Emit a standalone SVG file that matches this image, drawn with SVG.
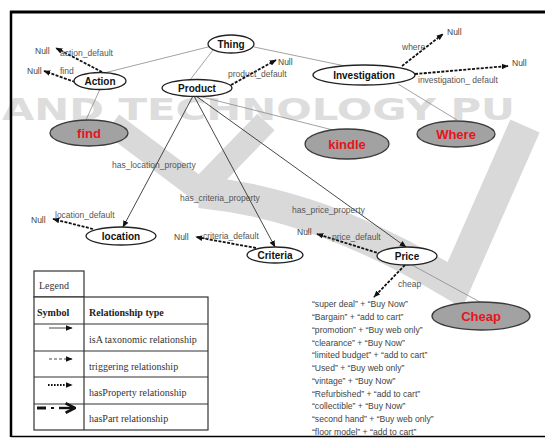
<svg xmlns="http://www.w3.org/2000/svg" width="545" height="439" viewBox="0 0 545 439">
<style>
.wm{fill:#dddddd;font-family:"DejaVu Sans",sans-serif;font-size:30px;font-weight:bold}
.sw{fill:none;stroke:#d9d9d9;stroke-linejoin:miter}
.frame{stroke:#000;fill:none}
.node{fill:#fff;stroke:#222;stroke-width:1.3}
.gnode{fill:#a2a2a2;stroke:#3a3a3a;stroke-width:1.3}
.nt{font-family:"Liberation Sans",Arial,sans-serif;font-size:10px;font-weight:bold;fill:#111;text-anchor:middle}
.rt{font-family:"Liberation Sans",Arial,sans-serif;font-size:13px;font-weight:bold;fill:#e8141c;text-anchor:middle}
.lb{font-family:"Liberation Sans",Arial,sans-serif;font-size:8.5px;fill:#555}
.nl{font-family:"Liberation Sans",Arial,sans-serif;font-size:8.5px;fill:#444}
.ls{font-family:"Liberation Sans",Arial,sans-serif;font-size:8.6px;fill:#444}
.plain{stroke:#8a8a8a;stroke-width:0.8;fill:none}
.solid{stroke:#333;stroke-width:0.9;fill:none;marker-end:url(#ah)}
.dash{stroke:#111;stroke-width:1.8;stroke-dasharray:3 1.4;fill:none;marker-end:url(#ah)}
.tb{fill:#fff;stroke:#333;stroke-width:1.2}
.tt{font-family:"Liberation Serif","Times New Roman",serif;font-size:10px;fill:#333}
.th{font-family:"Liberation Serif","Times New Roman",serif;font-size:10px;font-weight:bold;fill:#222}
</style>
<defs>
<marker id="ah" viewBox="0 0 10 10" refX="9" refY="5" markerWidth="7" markerHeight="7" orient="auto" markerUnits="userSpaceOnUse"><path d="M0,1 L10,5 L0,9 z" fill="#111"/></marker>
<marker id="ahb" viewBox="0 0 10 10" refX="8" refY="5" markerWidth="12" markerHeight="12" orient="auto" markerUnits="userSpaceOnUse"><path d="M1,1 L9,5 L1,9" fill="none" stroke="#111" stroke-width="2.2"/></marker>
</defs>
<rect width="545" height="439" fill="#fff"/>
<g id="watermark">
<text class="wm" x="2" y="120" textLength="513" lengthAdjust="spacingAndGlyphs">AND TECHNOLOGY PU</text>
<path class="sw" d="M112,124 L200,190 L266,122" stroke-width="24"/>
<path class="sw" d="M200,192 C280,200 360,228 455,285 L525,126" stroke-width="32"/>
</g>
<g id="frame">
<line class="frame" x1="10" y1="12" x2="545" y2="12" stroke-width="3"/>
<line class="frame" x1="11" y1="11" x2="11" y2="437" stroke-width="2.5"/>
<line class="frame" x1="11" y1="436.5" x2="545" y2="436.5" stroke-width="1.6" stroke="#333"/>
</g>
<g id="connectors">
<line class="plain" x1="216" y1="45" x2="104" y2="73"/>
<line class="plain" x1="213" y1="50" x2="190" y2="80"/>
<line class="plain" x1="254" y1="47" x2="345" y2="66"/>
<line class="plain" x1="100" y1="89" x2="86" y2="120"/>
<line class="plain" x1="198" y1="96" x2="333" y2="130"/>
<line class="plain" x1="398" y1="84" x2="457" y2="120"/>
<line class="plain" x1="412" y1="265" x2="480" y2="302"/>
<line class="solid" x1="193" y1="96" x2="123" y2="227"/>
<line class="solid" x1="194" y1="96" x2="275" y2="247"/>
<line class="solid" x1="196" y1="96" x2="406" y2="247"/>
<line class="dash" x1="102" y1="72" x2="56" y2="48"/>
<line class="dash" x1="75" y1="82" x2="44" y2="71"/>
<line class="dash" x1="231" y1="85" x2="276" y2="60"/>
<line class="dash" x1="402" y1="66" x2="443" y2="34"/>
<line class="dash" x1="415" y1="74" x2="508" y2="66"/>
<line class="dash" x1="93" y1="229" x2="53" y2="219"/>
<line class="dash" x1="256" y1="248" x2="196" y2="237"/>
<line class="dash" x1="381" y1="254" x2="317" y2="234"/>
<line class="dash" x1="405" y1="265" x2="374" y2="297"/>
<text class="nl" x="35" y="54">Null</text>
<text class="lb" x="60" y="56">action_default</text>
<text class="nl" x="27" y="74">Null</text>
<text class="lb" x="60" y="74">find</text>
<text class="nl" x="278" y="65">Null</text>
<text class="lb" x="228" y="77">product_default</text>
<text class="nl" x="447" y="35">Null</text>
<text class="lb" x="402" y="50">where</text>
<text class="nl" x="512" y="66">Null</text>
<text class="lb" x="418" y="83">investigation_ default</text>
<text class="nl" x="31" y="223">Null</text>
<text class="lb" x="55" y="218">location_default</text>
<text class="nl" x="174" y="240">Null</text>
<text class="lb" x="203" y="239">criteria_default</text>
<text class="nl" x="297" y="235">Null</text>
<text class="lb" x="332" y="240">price_default</text>
<text class="lb" x="398" y="287">cheap</text>
<text class="lb" x="112" y="168">has_location_property</text>
<text class="lb" x="180" y="201">has_criteria_property</text>
<text class="lb" x="292" y="213">has_price_property</text>
</g>
<g id="Thing"><ellipse class="node" cx="231" cy="44" rx="23" ry="9"/><text class="nt" x="231" y="47.5">Thing</text></g>
<g id="Action"><ellipse class="node" cx="100" cy="81" rx="26" ry="8.5"/><text class="nt" x="100" y="84.5">Action</text></g>
<g id="Product"><ellipse class="node" cx="197" cy="88" rx="35" ry="8.5"/><text class="nt" x="197" y="91.5">Product</text></g>
<g id="Investigation"><ellipse class="node" cx="364" cy="75" rx="51" ry="10"/><text class="nt" x="364" y="78.5">Investigation</text></g>
<g id="find"><ellipse class="gnode" cx="89" cy="133" rx="39" ry="13"/><text class="rt" x="89" y="137.5">find</text></g>
<g id="kindle"><ellipse class="gnode" cx="347" cy="144" rx="42" ry="15"/><text class="rt" x="347" y="149">kindle</text></g>
<g id="Where"><ellipse class="gnode" cx="456" cy="134" rx="39" ry="13"/><text class="rt" x="456" y="138.5">Where</text></g>
<g id="location"><ellipse class="node" cx="121" cy="236" rx="35" ry="9"/><text class="nt" x="121" y="239.5">location</text></g>
<g id="Criteria"><ellipse class="node" cx="275" cy="255" rx="28" ry="8"/><text class="nt" x="275" y="258.5">Criteria</text></g>
<g id="Price"><ellipse class="node" cx="407" cy="256" rx="30" ry="9"/><text class="nt" x="407" y="259.5">Price</text></g>
<g id="Cheap"><ellipse class="gnode" cx="481" cy="316" rx="49" ry="14"/><text class="rt" x="481" y="320.5">Cheap</text></g>
<g id="cheap-list">
<text class="ls" x="312" y="307">“super deal” + “Buy Now”</text>
<text class="ls" x="312" y="320">“Bargain” + “add to cart”</text>
<text class="ls" x="312" y="332.5">“promotion” + “Buy web only”</text>
<text class="ls" x="312" y="345.5">“clearance” + “Buy Now”</text>
<text class="ls" x="312" y="358">“limited budget” + “add to cart”</text>
<text class="ls" x="312" y="371">“Used” + “Buy web only”</text>
<text class="ls" x="312" y="383.5">“vintage” + “Buy Now”</text>
<text class="ls" x="312" y="396.5">“Refurbished” + “add to cart”</text>
<text class="ls" x="312" y="409">“collectible” + “Buy Now”</text>
<text class="ls" x="312" y="422">“second hand” + “Buy web only”</text>
<text class="ls" x="312" y="434.5">“floor model” + “add to cart”</text>
</g>
<g id="legend">
<rect class="tb" x="34" y="271" width="50" height="26"/>
<rect class="tb" x="34" y="297" width="174" height="133"/>
<line class="tb" x1="84" y1="297" x2="84" y2="430"/>
<line class="tb" x1="34" y1="324" x2="208" y2="324"/>
<line class="tb" x1="34" y1="351" x2="208" y2="351"/>
<line class="tb" x1="34" y1="377" x2="208" y2="377"/>
<line class="tb" x1="34" y1="404" x2="208" y2="404"/>
<text class="tt" x="39" y="289">Legend</text>
<text class="th" x="37" y="316">Symbol</text>
<text class="th" x="89" y="316">Relationship type</text>
<text class="tt" x="89" y="343">isA taxonomic relationship</text>
<text class="tt" x="89" y="370">triggering relationship</text>
<text class="tt" x="89" y="396">hasProperty relationship</text>
<text class="tt" x="89" y="422">hasPart relationship</text>
<line x1="49" y1="328" x2="72" y2="328" stroke="#333" stroke-width="0.9" marker-end="url(#ah)"/>
<line x1="49" y1="359" x2="72" y2="359" stroke="#333" stroke-width="0.9" stroke-dasharray="3 2" marker-end="url(#ah)"/>
<line x1="48" y1="385" x2="72" y2="385" stroke="#111" stroke-width="1.8" stroke-dasharray="1.6 1.4" marker-end="url(#ah)"/>
<line x1="37" y1="408" x2="46" y2="408" stroke="#111" stroke-width="3"/>
<line x1="51" y1="408" x2="54" y2="408" stroke="#111" stroke-width="2"/>
<line x1="59" y1="408" x2="74" y2="408" stroke="#111" stroke-width="2.4" marker-end="url(#ahb)"/>
</g>
</svg>
